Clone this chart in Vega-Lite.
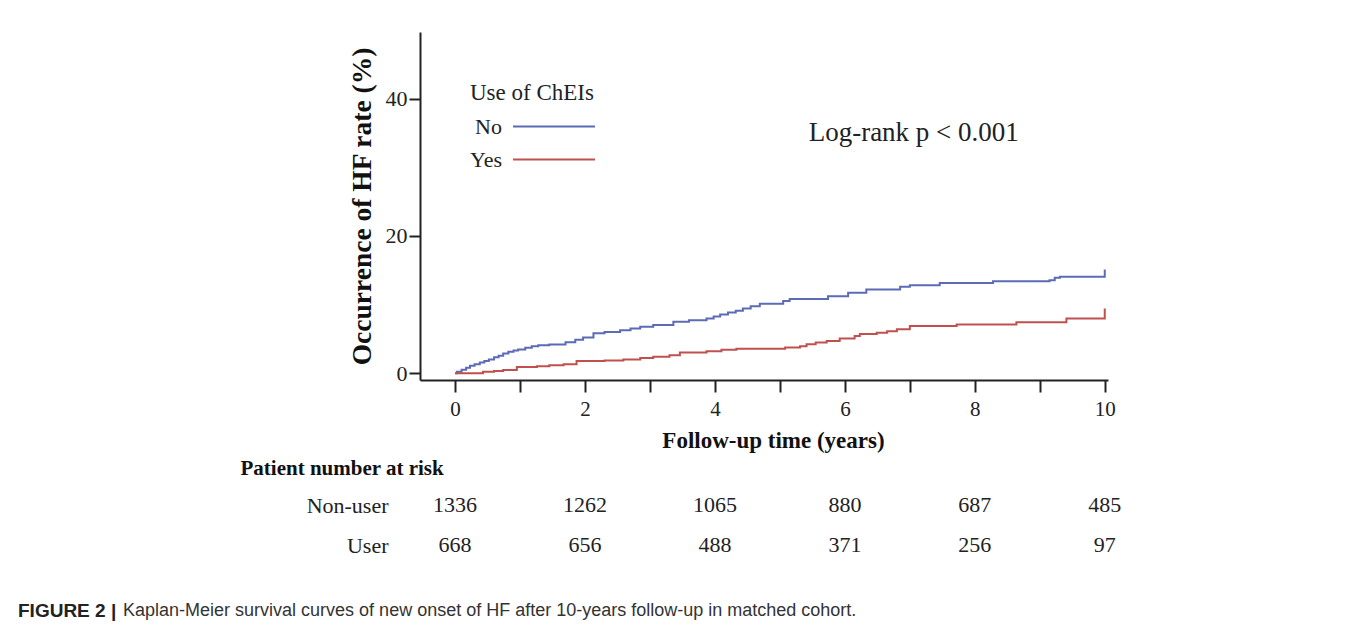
{
  "$schema": "https://vega.github.io/schema/vega-lite/v6.json",
  "width": 688,
  "height": 348,
  "autosize": {"type": "none"},
  "padding": {"left": 420, "top": 32, "right": 250, "bottom": 251},
  "background": "white",
  "config": {"view": {"stroke": null}, "font": "Liberation Serif"},
  "title": {
    "text": "FIGURE 2 |",
    "subtitle": "\u200b\u00a0\u00a0\u00a0\u00a0\u00a0\u00a0\u00a0\u00a0\u00a0\u00a0\u00a0\u00a0\u00a0\u00a0\u00a0\u00a0\u00a0\u00a0\u00a0\u00a0\u00a0Kaplan-Meier survival curves of new onset of HF after 10-years follow-up in matched cohort.",
    "orient": "bottom",
    "anchor": "start",
    "frame": "group",
    "dx": -402,
    "offset": 46,
    "font": "Liberation Sans",
    "fontSize": 19,
    "fontWeight": "bold",
    "color": "#222222",
    "subtitleFont": "Liberation Sans",
    "subtitleFontSize": 18,
    "subtitleFontWeight": "normal",
    "subtitleColor": "#333333",
    "subtitlePadding": -19
  },
  "datasets": {
    "km": [
      {"group": "No", "time": 0, "rate": 0},
      {"group": "No", "time": 0.03, "rate": 0.2},
      {"group": "No", "time": 0.1, "rate": 0.5},
      {"group": "No", "time": 0.17, "rate": 0.8},
      {"group": "No", "time": 0.23, "rate": 1.07},
      {"group": "No", "time": 0.3, "rate": 1.3},
      {"group": "No", "time": 0.38, "rate": 1.55},
      {"group": "No", "time": 0.45, "rate": 1.75},
      {"group": "No", "time": 0.52, "rate": 2.0},
      {"group": "No", "time": 0.6, "rate": 2.3},
      {"group": "No", "time": 0.67, "rate": 2.55},
      {"group": "No", "time": 0.74, "rate": 2.86},
      {"group": "No", "time": 0.82, "rate": 3.1},
      {"group": "No", "time": 0.9, "rate": 3.3},
      {"group": "No", "time": 0.97, "rate": 3.45},
      {"group": "No", "time": 1.08, "rate": 3.7},
      {"group": "No", "time": 1.18, "rate": 3.9},
      {"group": "No", "time": 1.28, "rate": 4.08},
      {"group": "No", "time": 1.45, "rate": 4.18},
      {"group": "No", "time": 1.7, "rate": 4.5},
      {"group": "No", "time": 1.85, "rate": 4.85},
      {"group": "No", "time": 1.97, "rate": 5.2},
      {"group": "No", "time": 2.13, "rate": 5.8},
      {"group": "No", "time": 2.3, "rate": 6.0},
      {"group": "No", "time": 2.54, "rate": 6.26},
      {"group": "No", "time": 2.7, "rate": 6.5},
      {"group": "No", "time": 2.85, "rate": 6.75},
      {"group": "No", "time": 3.05, "rate": 7.0},
      {"group": "No", "time": 3.36, "rate": 7.48},
      {"group": "No", "time": 3.6, "rate": 7.7},
      {"group": "No", "time": 3.87, "rate": 7.97},
      {"group": "No", "time": 3.98, "rate": 8.25},
      {"group": "No", "time": 4.08, "rate": 8.55},
      {"group": "No", "time": 4.2, "rate": 8.85},
      {"group": "No", "time": 4.32, "rate": 9.1},
      {"group": "No", "time": 4.43, "rate": 9.4},
      {"group": "No", "time": 4.55, "rate": 9.75},
      {"group": "No", "time": 4.69, "rate": 10.1},
      {"group": "No", "time": 5.05, "rate": 10.5},
      {"group": "No", "time": 5.15, "rate": 10.8},
      {"group": "No", "time": 5.74, "rate": 11.2},
      {"group": "No", "time": 6.05, "rate": 11.7},
      {"group": "No", "time": 6.33, "rate": 12.2},
      {"group": "No", "time": 6.85, "rate": 12.6},
      {"group": "No", "time": 7.0, "rate": 12.8},
      {"group": "No", "time": 7.46, "rate": 13.15},
      {"group": "No", "time": 8.28, "rate": 13.4},
      {"group": "No", "time": 9.15, "rate": 13.55},
      {"group": "No", "time": 9.23, "rate": 13.9},
      {"group": "No", "time": 9.31, "rate": 14.05},
      {"group": "No", "time": 10, "rate": 14.05},
      {"group": "No", "time": 10, "rate": 15.1},
      {"group": "Yes", "time": 0, "rate": 0},
      {"group": "Yes", "time": 0.43, "rate": 0.2},
      {"group": "Yes", "time": 0.6, "rate": 0.3},
      {"group": "Yes", "time": 0.74, "rate": 0.45},
      {"group": "Yes", "time": 0.95, "rate": 0.9},
      {"group": "Yes", "time": 1.26, "rate": 1.0},
      {"group": "Yes", "time": 1.45, "rate": 1.15},
      {"group": "Yes", "time": 1.67, "rate": 1.3},
      {"group": "Yes", "time": 1.87, "rate": 1.75},
      {"group": "Yes", "time": 2.3, "rate": 1.85},
      {"group": "Yes", "time": 2.59, "rate": 2.0},
      {"group": "Yes", "time": 2.85, "rate": 2.2},
      {"group": "Yes", "time": 3.05, "rate": 2.4},
      {"group": "Yes", "time": 3.3, "rate": 2.6},
      {"group": "Yes", "time": 3.46, "rate": 3.0},
      {"group": "Yes", "time": 3.87, "rate": 3.2},
      {"group": "Yes", "time": 4.1, "rate": 3.4},
      {"group": "Yes", "time": 4.33, "rate": 3.55},
      {"group": "Yes", "time": 5.08, "rate": 3.74},
      {"group": "Yes", "time": 5.31, "rate": 3.93},
      {"group": "Yes", "time": 5.41, "rate": 4.2},
      {"group": "Yes", "time": 5.55, "rate": 4.45},
      {"group": "Yes", "time": 5.72, "rate": 4.7},
      {"group": "Yes", "time": 5.92, "rate": 5.05},
      {"group": "Yes", "time": 6.15, "rate": 5.4},
      {"group": "Yes", "time": 6.23, "rate": 5.7},
      {"group": "Yes", "time": 6.49, "rate": 5.88},
      {"group": "Yes", "time": 6.65, "rate": 6.1},
      {"group": "Yes", "time": 6.8, "rate": 6.4},
      {"group": "Yes", "time": 7.0, "rate": 6.85},
      {"group": "Yes", "time": 7.72, "rate": 7.1},
      {"group": "Yes", "time": 8.64, "rate": 7.43},
      {"group": "Yes", "time": 9.41, "rate": 7.97},
      {"group": "Yes", "time": 10, "rate": 7.97},
      {"group": "Yes", "time": 10, "rate": 9.4}
    ],
    "risk": [
      {"cohort": "Non-user", "time": 0, "n": 1336},
      {"cohort": "Non-user", "time": 2, "n": 1262},
      {"cohort": "Non-user", "time": 4, "n": 1065},
      {"cohort": "Non-user", "time": 6, "n": 880},
      {"cohort": "Non-user", "time": 8, "n": 687},
      {"cohort": "Non-user", "time": 10, "n": 485},
      {"cohort": "User", "time": 0, "n": 668},
      {"cohort": "User", "time": 2, "n": 656},
      {"cohort": "User", "time": 4, "n": 488},
      {"cohort": "User", "time": 6, "n": 371},
      {"cohort": "User", "time": 8, "n": 256},
      {"cohort": "User", "time": 10, "n": 97}
    ],
    "note": [
      {"label": "Log-rank p < 0.001", "time": 7.06, "rate": 35}
    ]
  },
  "encoding": {
    "x": {
      "field": "time",
      "type": "quantitative",
      "scale": {"domain": [-0.54, 10.05], "nice": false, "zero": false},
      "axis": {
        "values": [0, 1, 2, 3, 4, 5, 6, 7, 8, 9, 10],
        "labelExpr": "datum.value % 2 === 0 ? datum.label : ''",
        "title": "Follow-up time (years)",
        "titleFont": "Liberation Serif",
        "titleFontSize": 23,
        "titleFontWeight": "bold",
        "titleColor": "#111111",
        "titlePadding": 10,
        "titleX": 353,
        "labelFont": "Liberation Serif",
        "labelFontSize": 21,
        "labelColor": "#222222",
        "labelPadding": 6,
        "labelFlush": false,
        "labelOverlap": false,
        "tickSize": 12,
        "tickWidth": 2,
        "tickColor": "#222222",
        "domainColor": "#222222",
        "domainWidth": 2,
        "grid": false
      }
    }
  },
  "layer": [
    {
      "layer": [
        {
          "data": {"name": "km"},
          "mark": {"type": "line", "interpolate": "step-after", "strokeWidth": 2},
          "encoding": {
            "y": {
              "field": "rate",
              "type": "quantitative",
              "scale": {"domain": [-1, 49.7], "nice": false, "zero": false},
              "axis": {
                "values": [0, 20, 40],
                "title": "Occurrence of HF rate (%)",
                "titleFont": "Liberation Serif",
                "titleFontSize": 27.5,
                "titleFontWeight": "bold",
                "titleColor": "#111111",
                "titlePadding": 9,
                "labelFont": "Liberation Serif",
                "labelFontSize": 22,
                "labelColor": "#222222",
                "labelPadding": 2,
                "tickSize": 11,
                "tickWidth": 2,
                "tickColor": "#222222",
                "domainColor": "#222222",
                "domainWidth": 2,
                "grid": false
              }
            },
            "color": {
              "field": "group",
              "type": "nominal",
              "scale": {"domain": ["No", "Yes"], "range": ["#5b6bb5", "#c0504d"]},
              "legend": {
                "orient": "none",
                "legendX": 50,
                "legendY": 49.5,
                "title": "Use of ChEIs",
                "titleFont": "Liberation Serif",
                "titleFontSize": 23,
                "titleFontWeight": "normal",
                "titleColor": "#222222",
                "titlePadding": 11,
                "labelFont": "Liberation Serif",
                "labelFontSize": 22,
                "labelColor": "#222222",
                "labelAlign": "right",
                "labelOffset": 10,
                "symbolType": "M6.4,0H22.8",
                "symbolSize": 100,
                "symbolStrokeWidth": 2,
                "symbolOffset": 0,
                "rowPadding": 11,
                "padding": 0
              }
            }
          }
        },
        {
          "data": {"name": "note"},
          "mark": {"type": "text", "font": "Liberation Serif", "fontSize": 27, "color": "#222222", "align": "center", "baseline": "middle"},
          "encoding": {
            "y": {"field": "rate", "type": "quantitative"},
            "text": {"field": "label"}
          }
        }
      ]
    },
    {
      "data": {"name": "risk"},
      "mark": {"type": "text", "font": "Liberation Serif", "fontSize": 22, "color": "#222222", "align": "center", "baseline": "middle"},
      "encoding": {
        "y": {
          "field": "cohort",
          "type": "nominal",
          "scale": {"type": "point", "domain": ["Non-user", "User"], "range": [473, 513], "padding": 0},
          "axis": {
            "orient": "left",
            "domain": false,
            "ticks": false,
            "tickSize": 0,
            "grid": false,
            "labelPadding": 32,
            "labelFont": "Liberation Serif",
            "labelFontSize": 22,
            "labelColor": "#222222",
            "title": "Patient number at risk",
            "titleAngle": 0,
            "titleAlign": "left",
            "titleBaseline": "middle",
            "titleX": -180,
            "titleY": 436,
            "titleFont": "Liberation Serif",
            "titleFontSize": 21,
            "titleFontWeight": "bold",
            "titleColor": "#111111"
          }
        },
        "text": {"field": "n", "type": "quantitative"}
      }
    }
  ],
  "resolve": {"scale": {"y": "independent"}, "axis": {"y": "independent"}}
}
